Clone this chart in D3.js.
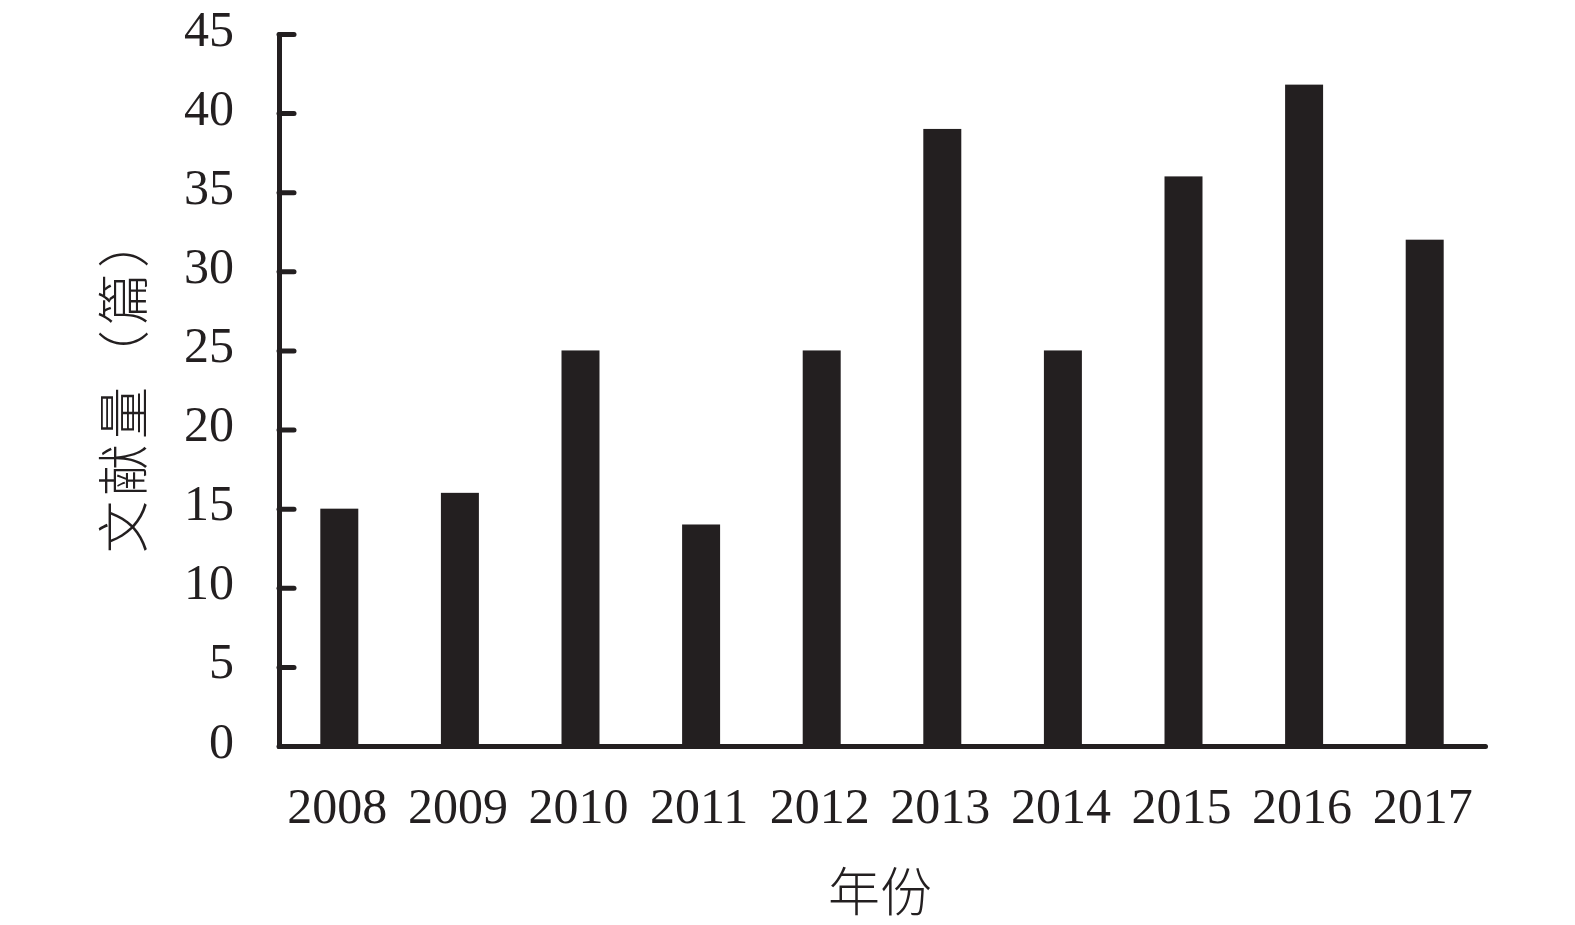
<!DOCTYPE html>
<html>
<head>
<meta charset="utf-8">
<script src="https://cdn.jsdelivr.net/npm/d3@7"></script>
<style>
  html, body { margin: 0; padding: 0; background: #fff; }
  svg { display: block; }
</style>
</head>
<body>
<svg id="chart" width="1575" height="925"></svg>
<script>
const years = ["2008","2009","2010","2011","2012","2013","2014","2015","2016","2017"];
const counts = [15, 16, 25, 14, 25, 39, 25, 36, 41.8, 32];
const yTicks = [0, 5, 10, 15, 20, 25, 30, 35, 40, 45];
const xTitle = "年份";
const yTitle = "文献量（篇）";

(function () {
const ink = "#231f20";
const svg = d3.select("#chart");
const mLeft = 279, mRight = 1485, mTop = 34, mBottom = 746;

const x = d3.scaleBand().domain(years).range([mLeft, mRight]).paddingInner(0.685).paddingOuter(0.3425);
const y = d3.scaleLinear().domain([0, 45]).range([mBottom, mTop]);

svg.append("g").selectAll("rect").data(years).join("rect")
  .attr("x", d => x(d))
  .attr("width", x.bandwidth())
  .attr("y", (d, i) => y(counts[i]))
  .attr("height", (d, i) => y(0) - y(counts[i]))
  .attr("fill", ink);

const yAxis = svg.append("g").attr("transform", `translate(${mLeft},0)`)
  .call(d3.axisLeft(y).tickValues(yTicks).tickSizeInner(-15).tickSizeOuter(0).tickPadding(45));
yAxis.select(".domain").attr("stroke", ink).attr("stroke-width", 5).attr("stroke-linecap", "round");
yAxis.selectAll(".tick line").attr("stroke", ink).attr("stroke-width", 5).attr("stroke-linecap", "round");
yAxis.selectAll(".tick text").attr("fill", ink).attr("dy", "0.22em")
  .style("font-family", "'Liberation Serif', 'DejaVu Serif', serif").style("font-size", "50px");

const xAxis = svg.append("g").attr("transform", `translate(0,${mBottom})`)
  .call(d3.axisBottom(x).tickSize(0).tickSizeOuter(0).tickPadding(41));
xAxis.select(".domain").attr("stroke", ink).attr("stroke-width", 5).attr("stroke-linecap", "round");
xAxis.selectAll(".tick text").attr("fill", ink).attr("dx", "-2")
  .style("font-family", "'Liberation Serif', 'DejaVu Serif', serif").style("font-size", "50px");

svg.append("text")
  .attr("transform", "translate(120,382) rotate(-90)")
  .attr("text-anchor", "middle").attr("dominant-baseline", "central")
  .attr("fill", ink)
  .style("font-family", "'Noto Sans CJK SC', sans-serif").style("font-size", "52px").style("font-weight", 300)
  .style("letter-spacing", "5px")
  .text(yTitle);

svg.append("text")
  .attr("x", 880).attr("y", 888)
  .attr("text-anchor", "middle").attr("dominant-baseline", "central")
  .attr("fill", ink)
  .style("font-family", "'Noto Sans CJK SC', sans-serif").style("font-size", "52px").style("font-weight", 300)
  .text(xTitle);
})();
</script>
</body>
</html>
